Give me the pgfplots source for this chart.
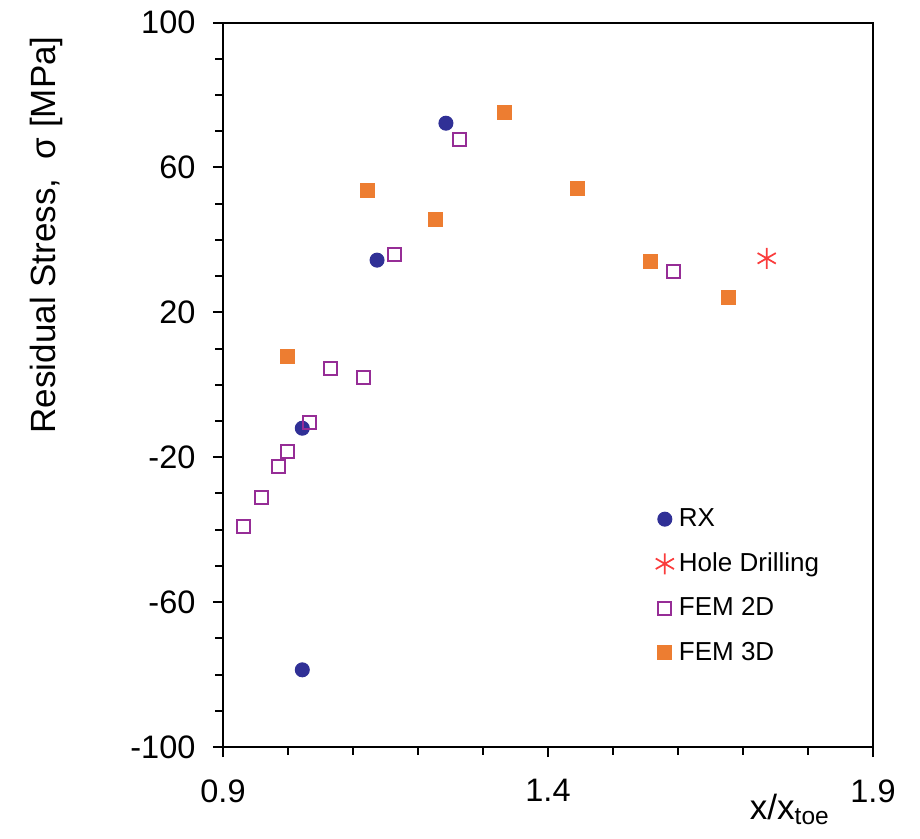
\documentclass[border=0pt]{standalone}
\usepackage{fontspec}
\setmainfont{Liberation Sans}
\usepackage{pgfplots}
\pgfplotsset{compat=1.18}
\definecolor{rxblue}{RGB}{48,48,150}
\definecolor{hdred}{RGB}{250,60,60}
\definecolor{fempurple}{RGB}{150,45,150}
\definecolor{femorange}{RGB}{237,125,49}
\begin{document}
\begin{tikzpicture}
\useasboundingbox (-89.2pt,-36.8pt) rectangle (278.8pt,298.8pt);
\begin{axis}[
  scale only axis, width=260pt, height=289.8pt,
  at={(0,0)}, anchor=south west,
  xmin=0.9, xmax=1.9, ymin=-100, ymax=100,
  xtick={0.9,1.4,1.9}, xticklabels={0.9,1.4,1.9},
  minor xtick={1.0,1.1,1.2,1.3,1.5,1.6,1.7,1.8},
  ytick={-100,-60,-20,20,60,100},
  minor ytick={-90,-80,-70,-50,-40,-30,-10,0,10,30,40,50,70,80,90},
  tick pos=left, tick align=outside,
  major tick length=4pt, minor tick length=3pt,
  axis line style={line width=0.8pt},
  every tick/.style={black, line width=0.8pt},
  /pgf/number format/assume math mode=true,
  tick label style={font=\fontsize{13}{15}\selectfont},
  yticklabel style={xshift=-3.5pt},
  xticklabel style={yshift=-5.5pt},
  ylabel={Residual Stress,\ \ σ [MPa]},
  ylabel style={at={(rel axis cs:-0.272,0.707)}, anchor=center, font=\fontsize{14}{16}\selectfont},
  legend style={at={(rel axis cs:0.665,0.337)}, anchor=north west, draw=none, fill=none,
    inner sep=0pt, font=\fontsize{10.4}{12}\selectfont, row sep=5pt,
    nodes={inner xsep=2pt}},
  legend cell align=left,
  legend image code/.code={\draw[mark repeat=2,mark phase=2] plot coordinates {(0cm,0cm) (0.12cm,0cm) (0.24cm,0cm)};},
]
\addplot[only marks, mark=*, mark size=2.8pt, color=rxblue, mark options={fill=rxblue, draw=rxblue}]
  coordinates {(1.022,-12.0) (1.022,-78.7) (1.137,34.4) (1.243,72.2)};
\addlegendentry{RX}
\addplot[only marks, mark=asterisk, mark size=4.2pt, color=hdred, mark options={line width=0.7pt}]
  coordinates {(1.7365,34.9)};
\addlegendentry{Hole Drilling}
\addplot[only marks, mark=square, mark size=2.6pt, color=fempurple, mark options={line width=0.8pt, fill=white}]
  coordinates {(0.932,-39.0) (0.960,-31.0) (0.986,-22.7) (1.000,-18.3) (1.033,-10.4)
               (1.066,4.5) (1.116,1.9) (1.164,36.0) (1.264,67.8) (1.593,31.4)};
\addlegendentry{FEM 2D}
\addplot[only marks, mark=square*, mark size=2.8pt, color=femorange, mark options={fill=femorange, draw=femorange}]
  coordinates {(1.000,7.9) (1.123,53.6) (1.227,45.7) (1.333,75.2) (1.446,54.2) (1.558,34.1) (1.677,24.0)};
\addlegendentry{FEM 3D}
\end{axis}
\node[anchor=base, font=\fontsize{14}{16}\selectfont] at (226.8pt,-29pt) {x/x\textsubscript{toe}};
\end{tikzpicture}
\end{document}
